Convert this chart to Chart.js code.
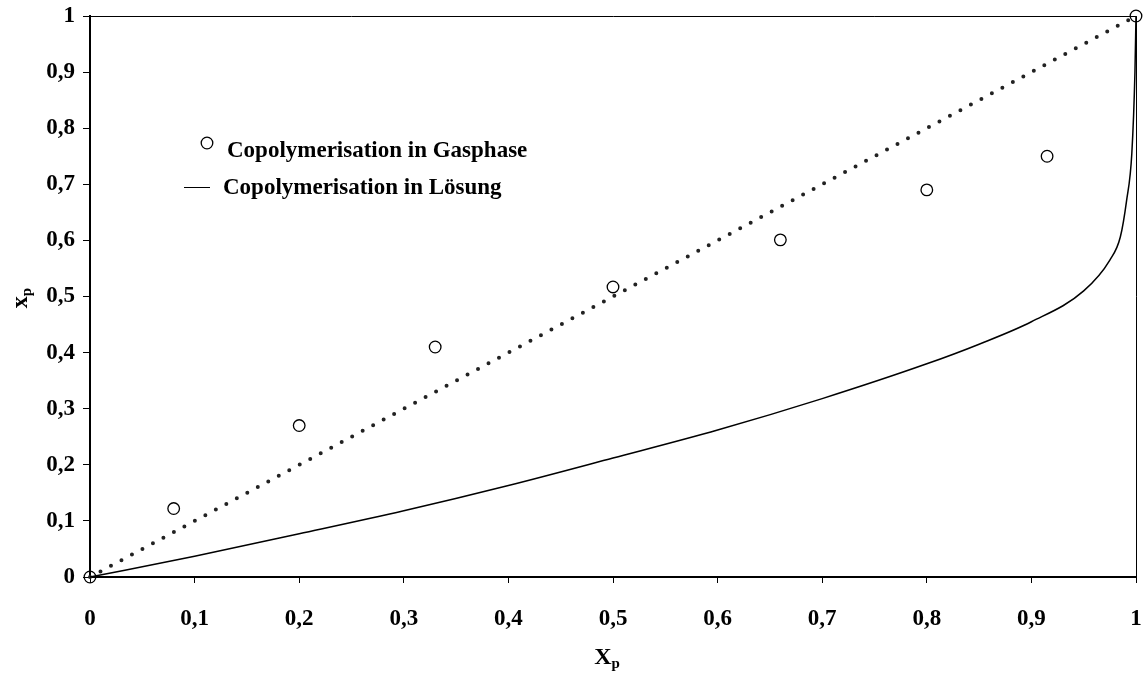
<!DOCTYPE html>
<html>
<head>
<meta charset="utf-8">
<script src="https://cdn.jsdelivr.net/npm/chart.js@4.4.0/dist/chart.umd.min.js"></script>
<style>
  html, body { margin: 0; padding: 0; background: #fff; }
  #wrap { position: relative; width: 1144px; height: 678px; }
</style>
</head>
<body>
<div id="wrap"><canvas id="c" width="1144" height="678"></canvas></div>
<script>
// Gasphase measurements (open circles)
const gasX = [0, 0.08, 0.2, 0.33, 0.5, 0.66, 0.8, 0.915, 1];
const gasY = [0, 0.122, 0.27, 0.41, 0.517, 0.601, 0.69, 0.75, 1];

// Lösung curve (solid line)
const solX = [0, 0.1, 0.2, 0.3, 0.4, 0.5, 0.6, 0.7, 0.8, 0.85, 0.9, 0.95, 0.975, 0.985, 0.991, 0.996, 0.999, 1];
const solY = [0, 0.037, 0.077, 0.118, 0.163, 0.212, 0.262, 0.318, 0.38, 0.415, 0.455, 0.51, 0.565, 0.606, 0.671, 0.755, 0.9, 1];

// diagonal reference (dotted)
const diagX = [0, 1];
const diagY = [0, 1];

const ticksX = [0, 0.1, 0.2, 0.3, 0.4, 0.5, 0.6, 0.7, 0.8, 0.9, 1];

const SERIF = "'Liberation Serif', 'Times New Roman', serif";
const zip = (xs, ys) => xs.map((x, i) => ({ x, y: ys[i] }));
const fmt = (v) => (v === 0 ? '0' : v === 1 ? '1' : Number(v).toFixed(1).replace('.', ','));

// frame on top/right, axis titles with subscripts, legend inside plot
const extras = {
  id: 'extras',
  afterDraw(chart) {
    const { ctx, chartArea: a } = chart;
    ctx.save();
    ctx.strokeStyle = '#000';
    ctx.lineWidth = 1;
    ctx.beginPath();
    ctx.moveTo(a.left, a.top + 0.5);
    ctx.lineTo(a.right + 0.5, a.top + 0.5);
    ctx.lineTo(a.right + 0.5, a.bottom);
    ctx.stroke();

    const sub = (txt, s, x, y) => {
      ctx.font = `bold 24px ${SERIF}`;
      ctx.textBaseline = 'alphabetic';
      ctx.textAlign = 'left';
      const w = ctx.measureText(txt).width;
      ctx.font = `bold 15px ${SERIF}`;
      const ws = ctx.measureText(s).width;
      const x0 = x - (w + ws) / 2;
      ctx.font = `bold 24px ${SERIF}`;
      ctx.fillText(txt, x0, y);
      ctx.font = `bold 15px ${SERIF}`;
      ctx.fillText(s, x0 + w, y + 4);
    };
    ctx.fillStyle = '#000';
    sub('X', 'p', 607, 664);
    ctx.save();
    ctx.translate(27, 298);
    ctx.rotate(-Math.PI / 2);
    sub('x', 'p', 0, 0);
    ctx.restore();

    // legend
    ctx.font = `bold 23px ${SERIF}`;
    ctx.textBaseline = 'middle';
    ctx.textAlign = 'left';
    ctx.beginPath();
    ctx.arc(207, 143, 5.8, 0, Math.PI * 2);
    ctx.lineWidth = 1.3;
    ctx.stroke();
    ctx.fillText('Copolymerisation in Gasphase', 227, 151);
    ctx.beginPath();
    ctx.moveTo(184, 187.5);
    ctx.lineTo(210, 187.5);
    ctx.lineWidth = 1;
    ctx.stroke();
    ctx.fillText('Copolymerisation in Lösung', 223, 188);
    ctx.restore();
  }
};

new Chart(document.getElementById('c'), {
  type: 'scatter',
  data: {
    datasets: [
      {
        label: 'Copolymerisation in Gasphase',
        data: zip(gasX, gasY),
        showLine: false,
        pointRadius: 5.8,
        pointBorderWidth: 1.3,
        pointBorderColor: '#000',
        pointBackgroundColor: 'rgba(255,255,255,0)',
        clip: false,
      },
      {
        label: 'Copolymerisation in Lösung',
        data: zip(solX, solY),
        showLine: true,
        borderColor: '#000',
        borderWidth: 1.5,
        pointRadius: 0,
        cubicInterpolationMode: 'monotone',
        clip: false,
      },
      {
        label: 'diagonal',
        data: zip(diagX, diagY),
        showLine: true,
        borderColor: '#222',
        borderWidth: 4,
        borderDash: [0, 11.9],
        borderCapStyle: 'round',
        pointRadius: 0,
        clip: false,
      },
    ],
  },
  options: {
    responsive: false,
    animation: false,
    layout: { padding: { left: 0, top: 16, right: 8, bottom: 0 } },
    plugins: { legend: { display: false }, tooltip: { enabled: false } },
    scales: {
      x: {
        type: 'linear',
        min: 0, max: 1,
        afterBuildTicks: (s) => { s.ticks = ticksX.map((v) => ({ value: v })); },
        afterFit: (s) => { s.height = 101; s.paddingLeft = 0; s.paddingRight = 0; },
        border: { display: true, color: '#000', width: 2 },
        grid: { drawOnChartArea: false, drawTicks: true, tickLength: 6, color: '#000', tickWidth: 1 },
        ticks: { color: '#000', padding: 22, maxRotation: 0, font: { family: SERIF, size: 23, weight: 'bold' }, callback: fmt },
      },
      y: {
        type: 'linear',
        min: 0, max: 1,
        afterBuildTicks: (s) => { s.ticks = ticksX.map((v) => ({ value: v })); },
        afterFit: (s) => { s.width = 90; s.paddingTop = 0; s.paddingBottom = 0; },
        border: { display: true, color: '#000', width: 2 },
        grid: { drawOnChartArea: false, drawTicks: true, tickLength: 7, color: '#000', tickWidth: 1 },
        ticks: { color: '#000', padding: 8, font: { family: SERIF, size: 23, weight: 'bold' }, callback: fmt },
      },
    },
  },
  plugins: [extras],
});
</script>
</body>
</html>
